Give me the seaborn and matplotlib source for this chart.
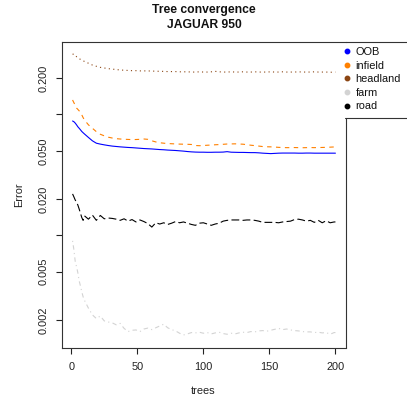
import matplotlib
matplotlib.use("Agg")
import matplotlib.pyplot as plt
from matplotlib.lines import Line2D
import seaborn as sns
import pandas as pd

# ---------------- data ----------------
trees = [1, 2, 3, 4, 5, 6, 7, 8, 9,
         10, 13, 16, 19, 22, 25, 28, 31, 34, 37, 40, 43, 46, 49, 52, 55, 58, 61, 64, 67,
         70, 73, 76, 79, 82, 85, 88, 91, 94, 97, 100, 103, 106, 109, 112, 115, 118, 121,
         124, 127, 130, 133, 136, 139, 142, 145, 148, 151, 154, 157, 160, 163, 166, 169,
         172, 175, 178, 181, 184, 187, 190, 193, 196, 199, 200]

oob = [0.0882, 0.0870, 0.0848, 0.0820, 0.0790, 0.0768, 0.0745, 0.0722, 0.0705,
       0.0689, 0.0645, 0.0605, 0.0578, 0.0568, 0.0560, 0.0553, 0.0547, 0.0543, 0.0539,
       0.0536, 0.0533, 0.0531, 0.0528, 0.0525, 0.0522, 0.0520, 0.0518, 0.0515, 0.0512,
       0.0510, 0.0507, 0.0505, 0.0503, 0.0500, 0.0497, 0.0493, 0.0490, 0.0488, 0.0487,
       0.0487, 0.0486, 0.0486, 0.0487, 0.0487, 0.0488, 0.0492, 0.0487, 0.0486, 0.0485,
       0.0485, 0.0484, 0.0483, 0.0483, 0.0481, 0.0478, 0.0476, 0.0474, 0.0476, 0.0478,
       0.0479, 0.0479, 0.0479, 0.0479, 0.0478, 0.0478, 0.0479, 0.0479, 0.0478, 0.0478,
       0.0478, 0.0478, 0.0478, 0.0478, 0.0478]

infield = [0.1316, 0.125, 0.119, 0.113, 0.110, 0.107, 0.104, 0.099, 0.094,
           0.090, 0.082, 0.0768, 0.072, 0.0685, 0.0665, 0.0648, 0.0638, 0.0630, 0.0626,
           0.0623, 0.0621, 0.0619, 0.0620, 0.0622, 0.0626, 0.0622, 0.0605, 0.0592, 0.0583,
           0.0578, 0.0574, 0.0572, 0.0570, 0.0568, 0.0567, 0.0566, 0.0564, 0.0553, 0.0551,
           0.0553, 0.0556, 0.0558, 0.0561, 0.0563, 0.0566, 0.0569, 0.0570, 0.0571, 0.0569,
           0.0567, 0.0562, 0.0556, 0.0552, 0.0547, 0.0542, 0.0540, 0.0539, 0.0537, 0.0534,
           0.0532, 0.0531, 0.0531, 0.0532, 0.0531, 0.0530, 0.0531, 0.0532, 0.0531, 0.0532,
           0.0533, 0.0534, 0.0536, 0.0538, 0.0536]

headland = [0.314, 0.316, 0.309, 0.300, 0.294, 0.289, 0.285, 0.281, 0.278,
            0.274, 0.265, 0.256, 0.250, 0.245, 0.242, 0.239, 0.237, 0.235, 0.233,
            0.232, 0.231, 0.230, 0.230, 0.229, 0.229, 0.229, 0.228, 0.228, 0.227,
            0.227, 0.226, 0.226, 0.226, 0.225, 0.225, 0.225, 0.224, 0.224, 0.225,
            0.224, 0.224, 0.225, 0.227, 0.225, 0.224, 0.224, 0.225, 0.224, 0.224,
            0.225, 0.224, 0.224, 0.225, 0.224, 0.224, 0.224, 0.225, 0.224, 0.224,
            0.225, 0.224, 0.224, 0.224, 0.225, 0.224, 0.224, 0.224, 0.225, 0.224,
            0.224, 0.224, 0.223, 0.224, 0.224]

farm = [0.0090, 0.0076, 0.0061, 0.0055, 0.0049, 0.0042, 0.0038, 0.0034, 0.0031,
        0.0029, 0.0025, 0.0022, 0.00205, 0.00215, 0.00196, 0.00192, 0.00189, 0.00182, 0.00187,
        0.00170, 0.00160, 0.00164, 0.00165, 0.00160, 0.00168, 0.00171, 0.00166, 0.00172, 0.00178,
        0.00184, 0.00172, 0.00166, 0.00162, 0.00155, 0.00150, 0.00153, 0.00157, 0.00156, 0.00158,
        0.00155, 0.00157, 0.00153, 0.00156, 0.00158, 0.00154, 0.00152, 0.00155, 0.00153, 0.00156,
        0.00158, 0.00157, 0.00160, 0.00159, 0.00162, 0.00163, 0.00161, 0.00164, 0.00167, 0.00170,
        0.00166, 0.00168, 0.00165, 0.00163, 0.00162, 0.00160, 0.00159, 0.00159, 0.00157, 0.00158,
        0.00156, 0.00157, 0.00152, 0.00157, 0.00157]

road = [0.0220, 0.0208, 0.0196, 0.0188, 0.0178, 0.0165, 0.0152, 0.0140, 0.0133,
        0.0145, 0.0136, 0.0147, 0.0133, 0.0146, 0.0137, 0.0139, 0.0138, 0.0136, 0.0133,
        0.0137, 0.0131, 0.0135, 0.0129, 0.0134, 0.0130, 0.0125, 0.0117, 0.0127, 0.0124,
        0.0127, 0.0123, 0.0126, 0.0130, 0.0127, 0.0129, 0.0126, 0.0123, 0.0121, 0.0126,
        0.0127, 0.0124, 0.0121, 0.0124, 0.0126, 0.0131, 0.0133, 0.0134, 0.0134, 0.0134,
        0.0133, 0.0134, 0.0134, 0.0133, 0.0131, 0.0128, 0.0128, 0.0128, 0.0128, 0.0127,
        0.0129, 0.0130, 0.0131, 0.0135, 0.0136, 0.0134, 0.0131, 0.0133, 0.0128, 0.0133,
        0.0127, 0.0132, 0.0127, 0.0129, 0.0129]

series_names = ["OOB", "infield", "headland", "farm", "road"]
series_values = [oob, infield, headland, farm, road]

ytick_values = [0.002, 0.005, 0.01, 0.02, 0.05, 0.1, 0.2]
ytick_labels = ["0.002", "0.005", "", "0.020", "0.050", "", "0.200"]
xtick_values = [0, 50, 100, 150, 200]

# ---------------- styles ----------------
colors = {"OOB": "#0000FF", "infield": "#FF8000", "headland": "#8B4513",
          "farm": "#D3D3D3", "road": "#000000"}
dashes = {"OOB": "", "infield": (4, 4), "headland": (1, 3),
          "farm": (1, 3, 4, 3), "road": (7, 3)}

rows = []
for name, vals in zip(series_names, series_values):
    assert len(vals) == len(trees), name
    for t, v in zip(trees, vals):
        rows.append({"trees": t, "error": v, "series": name})
df = pd.DataFrame(rows)

sns.set_theme(style="white")
plt.rcParams["font.family"] = ["Liberation Sans", "DejaVu Sans"]
plt.rcParams["axes.linewidth"] = 0.8

W, H = 407, 403
fig = plt.figure(figsize=(W / 100, H / 100), dpi=100)
L, R, T, B = 62, 346, 42, 348
ax = fig.add_axes([L / W, 1 - B / H, (R - L) / W, (B - T) / H])

sns.lineplot(data=df, x="trees", y="error", hue="series", style="series",
             hue_order=series_names, style_order=series_names,
             palette=colors, dashes=dashes, legend=False, linewidth=0.8,
             estimator=None, sort=False, ax=ax)

ax.set_yscale("log")
ax.set_ylim(0.00117, 0.397)
ax.set_xlim(-7, 208)
ax.set_yticks(ytick_values)
ax.set_yticklabels(ytick_labels, rotation=90, va="center")
ax.yaxis.set_minor_locator(matplotlib.ticker.NullLocator())
ax.set_xticks(xtick_values)
ax.set_xticklabels([str(v) for v in xtick_values])
ax.tick_params(axis="both", which="major", direction="out", length=4.3, width=0.8,
               color="#222222", labelsize=7.9, labelcolor="#222222",
               left=True, bottom=True)
ax.tick_params(axis="y", pad=5)
ax.tick_params(axis="x", pad=6)
ax.set_xlabel("")
ax.set_ylabel("")

for s in ["left", "bottom", "top"]:
    ax.spines[s].set_color("#333333")
    ax.spines[s].set_linewidth(0.8)
ax.spines["right"].set_visible(False)

def fx(px):
    return px / W

def fy(py):
    return 1 - py / H

# partial right border (below legend box), legend box edges
fig.add_artist(Line2D([fx(R), fx(R)], [fy(118), fy(B)], color="#333333", lw=0.8))
fig.add_artist(Line2D([fx(R), fx(W)], [fy(T), fy(T)], color="#333333", lw=0.8))
fig.add_artist(Line2D([fx(345), fx(W)], [fy(118), fy(118)], color="#333333", lw=0.8))

# legend
handles = [Line2D([], [], marker="o", linestyle="none", markersize=3.2,
                  markerfacecolor=colors[n], markeredgecolor=colors[n]) for n in series_names]
fig.legend(handles, series_names, loc="upper left",
           bbox_to_anchor=(fx(344), fy(47)), bbox_transform=fig.transFigure,
           frameon=False, handlelength=0.6, handletextpad=0.45, labelspacing=0.33,
           borderaxespad=0, borderpad=0, fontsize=7.9, labelcolor="#111111")

# titles and axis labels
fig.text(fx(204), fy(10.5), "Tree convergence", ha="center", va="center",
         fontsize=8.7, fontweight="bold", color="#111111")
fig.text(fx(204), fy(25.5), "JAGUAR 950", ha="center", va="center",
         fontsize=8.7, fontweight="bold", color="#111111")
fig.text(fx(203), fy(391), "trees", ha="center", va="center", fontsize=7.9, color="#222222")
fig.text(fx(19), fy(195), "Error", ha="center", va="center", rotation=90,
         fontsize=7.9, color="#222222")

fig.savefig("out.png", dpi=100)
